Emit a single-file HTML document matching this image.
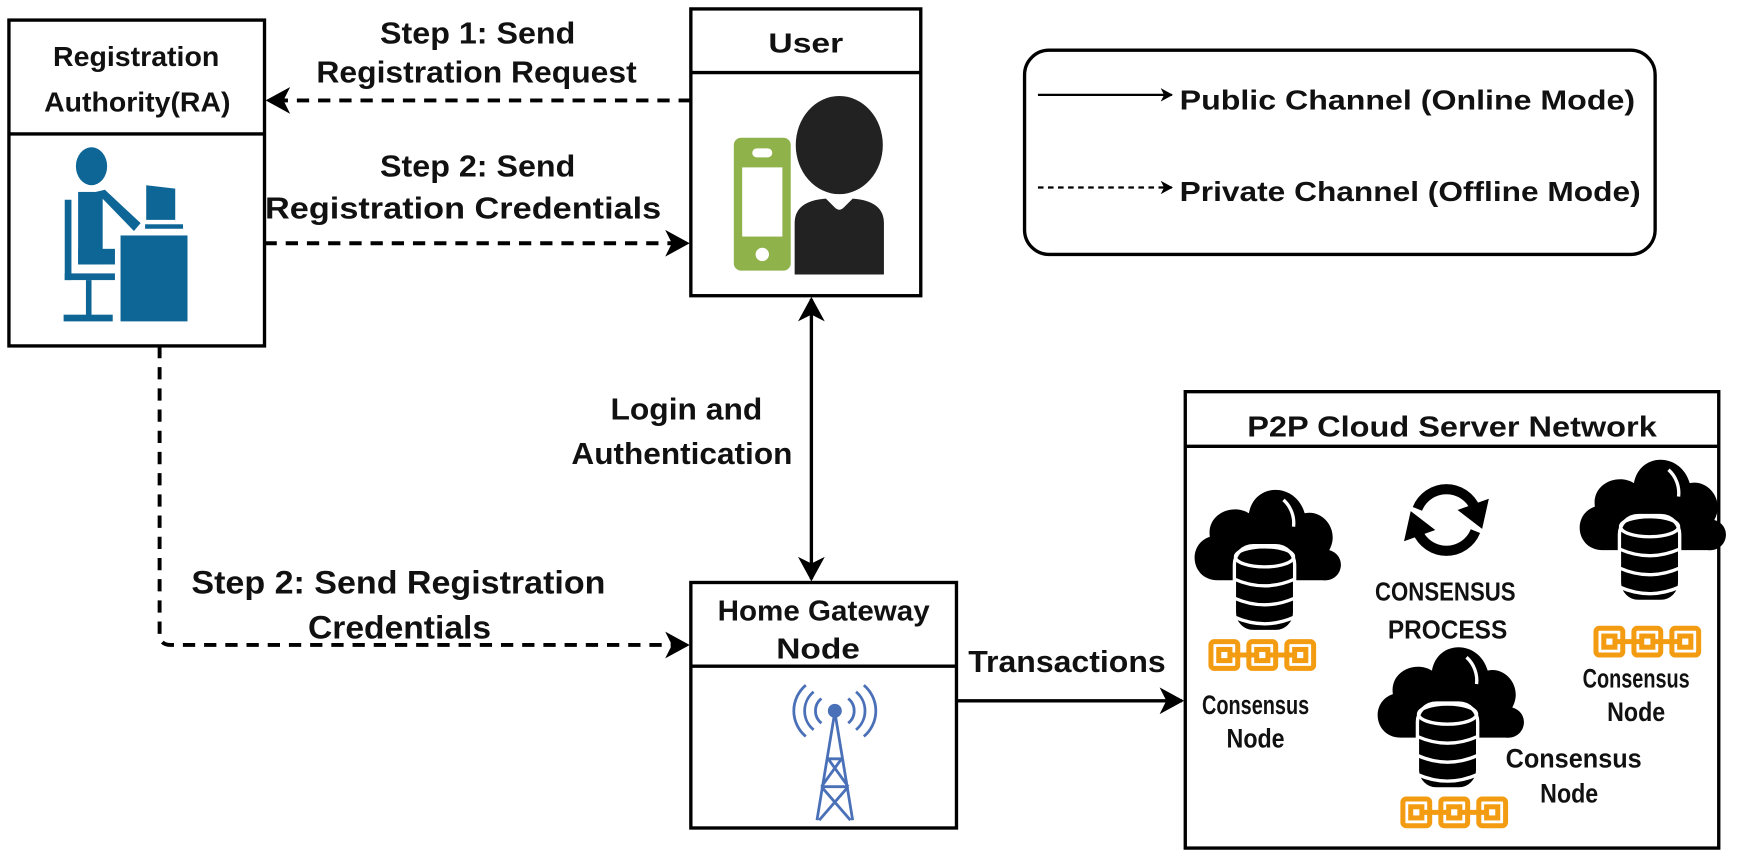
<!DOCTYPE html>
<html><head><style>
html,body{margin:0;padding:0;background:#fff;}
svg{display:block;}
text{font-family:"Liberation Sans",sans-serif;font-weight:bold;fill:#111;}
</style></head><body>
<svg width="1750" height="857" viewBox="0 0 1568 768" preserveAspectRatio="none">
<defs>
<marker id="ah" markerWidth="12" markerHeight="12" refX="10" refY="6" orient="auto" markerUnits="userSpaceOnUse">
<path d="M0,0 L11,6 L0,12 L3,6 Z" fill="#000"/>
</marker>
<marker id="ahb" markerWidth="24" markerHeight="24" refX="20" refY="12" orient="auto-start-reverse" markerUnits="userSpaceOnUse">
<path d="M0,0 L22,12 L0,24 L6,12 Z" fill="#000"/>
</marker>
<g id="cloud">
<path d="M-42,36 C-66,36 -70,4 -49,-3 C-52,-24 -28,-33 -14,-24 C-9,-52 28,-52 36,-24 C52,-28 68,-9 58,9 C75,14 70,38 52,36 Z" fill="#000"/>
<path d="M17,-36 A28,28 0 0 1 26,-12" stroke="#fff" stroke-width="3" fill="none"/>
<rect x="-27" y="5" width="54" height="77" rx="17" fill="#000" stroke="#fff" stroke-width="3"/>
<g fill="none" stroke="#fff" stroke-width="3">
<ellipse cx="0" cy="15" rx="26" ry="9"/>
<path d="M-27,35 Q0,47 27,35"/>
<path d="M-27,52 Q0,64 27,52"/>
<path d="M-27,69 Q0,81 27,69"/>
</g>
</g>
<g id="chain">
<g fill="none" stroke="#f39c12" stroke-width="4.5">
<rect x="0" y="0" width="24" height="24" rx="3"/>
<rect x="34" y="0" width="24" height="24" rx="3"/>
<rect x="68" y="0" width="24" height="24" rx="3"/>
<rect x="7" y="7" width="10" height="10"/>
<rect x="41" y="7" width="10" height="10"/>
<rect x="75" y="7" width="10" height="10"/>
<path d="M17,12 H41 M51,12 H75"/>
</g>
</g>
</defs>

<!-- RA box -->
<rect x="8" y="18" width="229" height="292" fill="#fff" stroke="#000" stroke-width="3"/>
<line x1="8" y1="120" x2="237" y2="120" stroke="#000" stroke-width="3"/>
<text x="122" y="59" font-size="25" text-anchor="middle" textLength="149" lengthAdjust="spacingAndGlyphs">Registration</text>
<text x="123" y="100" font-size="25" text-anchor="middle" textLength="167" lengthAdjust="spacingAndGlyphs">Authority(RA)</text>
<g fill="#0d6696">
<ellipse cx="82" cy="149" rx="14" ry="17"/>
<rect x="70" y="172" width="22" height="65"/>
<path d="M86,172 L94,170 L126,200 L120,207 Z"/>
<rect x="70" y="223" width="33" height="14"/>
<rect x="58" y="179" width="6" height="72"/>
<rect x="58" y="245" width="45" height="6"/>
<rect x="77" y="251" width="5" height="33"/>
<rect x="57" y="282" width="44" height="6"/>
<path d="M131,166 L157,169 L157,197 L131,197 Z"/>
<rect x="130" y="201" width="34" height="4"/>
<rect x="108" y="211" width="60" height="77"/>
</g>

<!-- User box -->
<rect x="619" y="8" width="206" height="257" fill="#fff" stroke="#000" stroke-width="3"/>
<line x1="619" y1="65" x2="825" y2="65" stroke="#000" stroke-width="3"/>
<text x="722" y="47" font-size="25" text-anchor="middle" textLength="67" lengthAdjust="spacingAndGlyphs">User</text>
<ellipse cx="752" cy="130" rx="39" ry="44" fill="#222"/>
<path d="M712,200 Q712,180 740,178 L748,186 Q752,190 756,186 L764,178 Q792,180 792,200 L792,246 L712,246 Z" fill="#222"/>
<rect x="656" y="122" width="54" height="122" rx="8" fill="#8fb24a" stroke="#fff" stroke-width="3"/>
<rect x="665" y="150" width="36" height="62" fill="#fff"/>
<rect x="674" y="133" width="18" height="8" rx="4" fill="#fff"/>
<circle cx="683" cy="228" r="6" fill="#fff"/>

<!-- Legend -->
<rect x="918" y="45" width="565" height="183" rx="22" fill="#fff" stroke="#000" stroke-width="3"/>
<line x1="930" y1="85" x2="1050" y2="85" stroke="#000" stroke-width="2" marker-end="url(#ah)"/>
<text x="1057" y="98" font-size="25" textLength="408" lengthAdjust="spacingAndGlyphs">Public Channel (Online Mode)</text>
<line x1="930" y1="168" x2="1050" y2="168" stroke="#000" stroke-width="2" stroke-dasharray="5,4" marker-end="url(#ah)"/>
<text x="1057" y="180" font-size="25" textLength="413" lengthAdjust="spacingAndGlyphs">Private Channel (Offline Mode)</text>

<!-- Step arrows -->
<line x1="619" y1="90" x2="240" y2="90" stroke="#000" stroke-width="3.5" stroke-dasharray="11,8" marker-end="url(#ahb)"/>
<text x="428" y="39" font-size="27" text-anchor="middle" textLength="175" lengthAdjust="spacingAndGlyphs">Step 1: Send</text>
<text x="427" y="74" font-size="27" text-anchor="middle" textLength="287" lengthAdjust="spacingAndGlyphs">Registration Request</text>
<line x1="237" y1="218" x2="616" y2="218" stroke="#000" stroke-width="3.5" stroke-dasharray="11,8" marker-end="url(#ahb)"/>
<text x="428" y="158" font-size="27" text-anchor="middle" textLength="175" lengthAdjust="spacingAndGlyphs">Step 2: Send</text>
<text x="415" y="196" font-size="27" text-anchor="middle" textLength="355" lengthAdjust="spacingAndGlyphs">Registration Credentials</text>

<!-- vertical double arrow -->
<line x1="727" y1="268" x2="727" y2="519" stroke="#000" stroke-width="3" marker-start="url(#ahb)" marker-end="url(#ahb)"/>
<text x="615" y="376" font-size="27" text-anchor="middle" textLength="136" lengthAdjust="spacingAndGlyphs">Login and</text>
<text x="611" y="416" font-size="27" text-anchor="middle" textLength="198" lengthAdjust="spacingAndGlyphs">Authentication</text>

<!-- RA to HGN -->
<path d="M143,310 V568 Q143,578 153,578 H616" fill="none" stroke="#000" stroke-width="3.5" stroke-dasharray="11,8" marker-end="url(#ahb)"/>
<text x="357" y="532" font-size="29" text-anchor="middle" textLength="371" lengthAdjust="spacingAndGlyphs">Step 2: Send Registration</text>
<text x="358" y="572" font-size="29" text-anchor="middle" textLength="164" lengthAdjust="spacingAndGlyphs">Credentials</text>

<!-- HGN box -->
<rect x="619" y="522" width="238" height="220" fill="#fff" stroke="#000" stroke-width="3"/>
<line x1="619" y1="597" x2="857" y2="597" stroke="#000" stroke-width="3"/>
<text x="738" y="556" font-size="26" text-anchor="middle" textLength="190" lengthAdjust="spacingAndGlyphs">Home Gateway</text>
<text x="733" y="590" font-size="26" text-anchor="middle" textLength="75" lengthAdjust="spacingAndGlyphs">Node</text>
<g stroke="#4a70b8" stroke-width="2.5" fill="none">
<path d="M748,638 L732,735 M748,638 L764,735 M740,680 L756,680 M736,705 L760,705 M742,680 L760,705 M754,680 L736,705 M736,705 L762,735 M760,705 L734,735"/>
<path d="M736,626 A14,14 0 0 0 736,648 M760,626 A14,14 0 0 1 760,648"/>
<path d="M729,620 A22,22 0 0 0 729,654 M767,620 A22,22 0 0 1 767,654"/>
<path d="M722,614 A30,30 0 0 0 722,660 M774,614 A30,30 0 0 1 774,660"/>
<circle cx="748" cy="637" r="5" fill="#4a70b8"/>
</g>

<!-- Transactions -->
<line x1="857" y1="628" x2="1059" y2="628" stroke="#000" stroke-width="3" marker-end="url(#ahb)"/>
<text x="956" y="602" font-size="27" text-anchor="middle" textLength="177" lengthAdjust="spacingAndGlyphs">Transactions</text>

<!-- P2P box -->
<rect x="1062" y="351" width="478" height="409" fill="#fff" stroke="#000" stroke-width="3"/>
<line x1="1062" y1="400" x2="1540" y2="400" stroke="#000" stroke-width="3"/>
<text x="1301" y="391" font-size="26" text-anchor="middle" textLength="367" lengthAdjust="spacingAndGlyphs">P2P Cloud Server Network</text>

<use href="#cloud" transform="translate(1133,484)"/>
<use href="#chain" transform="translate(1085,575)"/>
<text x="1125" y="640" font-size="24" text-anchor="middle" textLength="96" lengthAdjust="spacingAndGlyphs">Consensus</text>
<text x="1125" y="670" font-size="24" text-anchor="middle" textLength="52" lengthAdjust="spacingAndGlyphs">Node</text>

<use href="#cloud" transform="translate(1478,457)"/>
<use href="#chain" transform="translate(1430,563)"/>
<text x="1466" y="616" font-size="24" text-anchor="middle" textLength="96" lengthAdjust="spacingAndGlyphs">Consensus</text>
<text x="1466" y="646" font-size="24" text-anchor="middle" textLength="52" lengthAdjust="spacingAndGlyphs">Node</text>

<use href="#cloud" transform="translate(1297,625)"/>
<use href="#chain" transform="translate(1257,716)"/>
<text x="1410" y="688" font-size="24" text-anchor="middle" textLength="122" lengthAdjust="spacingAndGlyphs">Consensus</text>
<text x="1406" y="719" font-size="24" text-anchor="middle" textLength="52" lengthAdjust="spacingAndGlyphs">Node</text>

<!-- consensus process icon -->
<g fill="none" stroke="#000" stroke-width="9">
<path d="M1270,456 A28,28 0 0 1 1322,456"/>
<path d="M1322,476 A28,28 0 0 1 1270,476"/>
</g>
<path d="M1334,447 L1306,457 L1328,474 Z" fill="#000"/>
<path d="M1258,485 L1286,475 L1264,458 Z" fill="#000"/>
<text x="1295" y="538" font-size="23" text-anchor="middle" textLength="126" lengthAdjust="spacingAndGlyphs">CONSENSUS</text>
<text x="1297" y="572" font-size="23" text-anchor="middle" textLength="107" lengthAdjust="spacingAndGlyphs">PROCESS</text>
</svg>
</body></html>
